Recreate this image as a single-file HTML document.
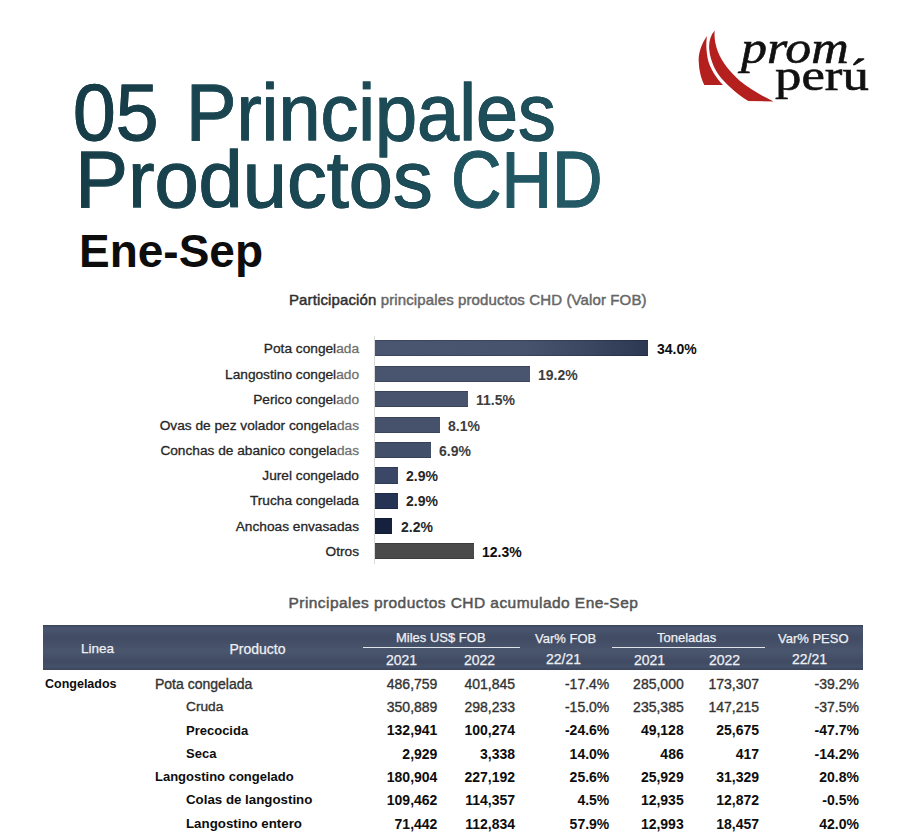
<!DOCTYPE html>
<html>
<head>
<meta charset="utf-8">
<style>
html,body{margin:0;padding:0;background:#fff;}
body{width:909px;height:840px;position:relative;overflow:hidden;font-family:"Liberation Sans",sans-serif;}
.a{position:absolute;white-space:pre;line-height:1;}
.title{font-size:80px;color:#1c4c57;-webkit-text-stroke:1px #1b4852;-webkit-background-clip:text;background-clip:text;-webkit-text-fill-color:transparent;padding:0 4px 20px 0;}
.lbl{font-size:13.7px;color:#262626;-webkit-text-stroke:0.3px #262626;text-align:right;right:550px;}
.val{font-size:14px;font-weight:bold;color:#262626;}
.fade{position:absolute;background:linear-gradient(90deg,rgba(255,255,255,0),rgba(255,255,255,0.33) 4px,rgba(255,255,255,0.33));}
.bar{position:absolute;left:374.5px;height:16.2px;box-shadow:inset 0 1px 0 rgba(0,0,20,0.18),inset 0 -1px 0 rgba(0,0,20,0.18);}
.hd{color:#eef0f4;font-size:13px;-webkit-text-stroke:0.25px #eef0f4;}
.c{text-align:center;}
.num{font-size:14px;text-align:right;}
.b{font-weight:bold;color:#0d0d0d;}
.r{color:#333;-webkit-text-stroke:0.35px #333;}
</style>
</head>
<body>

<!-- Logo -->
<svg class="a" style="left:0;top:0" width="909" height="120" viewBox="0 0 909 120">
  <path fill="#b3201d" d="M707,36 C701,44 698,55 698.8,62 C699,72 702,80 704.3,85 L723,85 C716,78 710,68 708,60 C706,50 706,42 707,36 Z"/>
  <path fill="#b3201d" d="M714.7,30.5 C710,36 708.5,43 709.3,50 C710.5,62 716,72 722,79 C730,88 740,96 748.3,101 L773.6,101.5 C762,96 750,89 740,81 C730,72 722,62 718,52 C715,44 714,37 714.7,30.5 Z"/>
</svg>
<div class="a" id="prom" style="left:741px;top:21px;font:italic 46px 'Liberation Serif',serif;color:#111;-webkit-text-stroke:0.6px #111;transform:scaleX(1.13);transform-origin:0 0;">prom</div>
<div class="a" id="peru" style="left:775px;top:50px;font:44px 'Liberation Serif',serif;color:#111;-webkit-text-stroke:0.6px #111;transform:scaleX(1.2);transform-origin:0 0;">perú</div>

<!-- Title -->
<div class="a title" id="t1a" style="-webkit-text-stroke:1px #173e48;left:73px;top:73px;transform:scaleX(0.96);transform-origin:0 0;background-image:linear-gradient(90deg,#163d47,#183f4a);">05</div>
<div class="a title" id="t1b" style="-webkit-text-stroke:1px #1c4a55;left:186px;top:73px;transform:scaleX(0.945);transform-origin:0 0;background-image:linear-gradient(90deg,#19434e,#1f515d);">Principales</div>
<div class="a title" id="t2a" style="-webkit-text-stroke:1px #1a4550;left:75px;top:139.7px;transform:scaleX(0.993);transform-origin:0 0;background-image:linear-gradient(90deg,#163d47,#1d4e5a);">Productos</div>
<div class="a title" id="t2b" style="-webkit-text-stroke:1px #215763;left:450.5px;top:139.7px;transform:scaleX(0.875);transform-origin:0 0;background-image:linear-gradient(90deg,#1f535f,#235b67);">CHD</div>
<div class="a" style="left:79px;top:228px;font-size:46px;font-weight:bold;color:#0d0d0d;">Ene-Sep</div>

<!-- Chart -->
<div class="a" id="ct" style="left:289px;top:292px;font-size:15px;color:#666;-webkit-text-stroke:0.45px #666;letter-spacing:0.12px;"><span style="color:#2e2e2e;-webkit-text-stroke:0.45px #2e2e2e;">Participación</span> principales productos CHD (Valor FOB)</div>
<div class="a" style="left:373.5px;top:336px;width:1px;height:228px;background:#d9d9d9;"></div>

<div class="bar" style="top:340.3px;width:273.8px;background:linear-gradient(90deg,#4a566f 0%,#47536c 55%,#3a4660 80%,#2c3852 100%);"></div>
<div class="bar" style="top:366px;width:155px;background:#49556e;"></div>
<div class="bar" style="top:391.3px;width:93px;background:#48546d;"></div>
<div class="bar" style="top:417px;width:65px;background:#46526b;"></div>
<div class="bar" style="top:442px;width:56px;background:#435069;"></div>
<div class="bar" style="top:467.4px;width:23.5px;background:#3a4766;"></div>
<div class="bar" style="top:492.6px;width:23px;background:#253455;"></div>
<div class="bar" style="top:518.1px;width:17.3px;background:#16213d;"></div>
<div class="bar" style="top:543.2px;width:99px;background:#4a4a4a;"></div>

<div id="L1" class="a lbl" style="top:342px;">Pota congelada</div>
<div id="L2" class="a lbl" style="top:367.5px;">Langostino congelado</div>
<div id="L3" class="a lbl" style="top:393px;">Perico congelado</div>
<div id="L4" class="a lbl" style="top:418.5px;">Ovas de pez volador congeladas</div>
<div id="L5" class="a lbl" style="top:443.5px;">Conchas de abanico congeladas</div>
<div id="L6" class="a lbl" style="top:469px;">Jurel congelado</div>
<div id="L7" class="a lbl" style="top:494px;">Trucha congelada</div>
<div id="L8" class="a lbl" style="top:519.5px;">Anchoas envasadas</div>
<div id="L9" class="a lbl" style="top:544.5px;">Otros</div>

<div class="fade" style="left:334.5px;top:338px;width:27px;height:124px;"></div>
<div id="V1" class="a val" style="left:657px;top:342px;color:#0d0d0d">34.0%</div>
<div id="V2" class="a val" style="color:#3d3d3d;left:538px;top:367.5px;">19.2%</div>
<div id="V3" class="a val" style="color:#3d3d3d;left:476px;top:393px;">11.5%</div>
<div id="V4" class="a val" style="color:#3d3d3d;left:448px;top:418.5px;">8.1%</div>
<div id="V5" class="a val" style="color:#3d3d3d;left:439px;top:443.5px;">6.9%</div>
<div id="V6" class="a val" style="left:406px;top:469px;">2.9%</div>
<div id="V7" class="a val" style="left:406px;top:494px;">2.9%</div>
<div id="V8" class="a val" style="left:401px;top:519.5px;">2.2%</div>
<div id="V9" class="a val" style="left:482px;top:544.5px;color:#0d0d0d">12.3%</div>

<!-- Table -->
<div class="a" id="tt" style="left:288.5px;top:594.5px;font-size:15.5px;color:#555;-webkit-text-stroke:0.5px #555;letter-spacing:0.44px;">Principales productos CHD acumulado Ene-Sep</div>

<div class="a" style="left:42.5px;top:625px;width:820px;height:45px;background:linear-gradient(#39445a 0px,#4a5670 3px,#47526b 6px,#414c64 13px,#4a556e 26px,#404b63 37px,#45506a 42px,#3a4558 45px);"></div>
<div class="a" style="left:363px;top:647px;width:157px;height:1.2px;background:#dfe3ea;"></div>
<div class="a" style="left:612px;top:647px;width:153px;height:1.2px;background:#dfe3ea;"></div>

<div class="a hd" style="left:81px;top:641.5px;font-size:13.5px;">Linea</div>
<div class="a hd" style="left:229.5px;top:641.5px;font-size:14px;">Producto</div>
<div class="a hd" style="left:396px;top:631px;">Miles US$ FOB</div>
<div class="a hd" style="left:386px;top:653px;font-size:14px;">2021</div>
<div class="a hd" style="left:464px;top:653px;font-size:14px;">2022</div>
<div class="a hd" style="left:535px;top:632px;">Var% FOB</div>
<div class="a hd" style="left:546px;top:652px;font-size:14px;">22/21</div>
<div class="a hd" style="left:657px;top:631px;">Toneladas</div>
<div class="a hd" style="left:634px;top:653px;font-size:14px;">2021</div>
<div class="a hd" style="left:709px;top:653px;font-size:14px;">2022</div>
<div class="a hd" style="left:778px;top:632px;">Var% PESO</div>
<div class="a hd" style="left:792px;top:652px;font-size:14px;">22/21</div>

<!-- rows -->
<div class="a b" style="left:45px;top:678.4px;font-size:12.5px;" id="R0">Congelados</div>
<div class="a r" style="left:155px;top:677.4px;font-size:14px;" id="R1">Pota congelada</div>
<div class="a r" style="left:186px;top:700.4px;font-size:13.7px;" id="R2">Cruda</div>
<div class="a b" style="left:186px;top:724.4px;font-size:13px;" id="R3">Precocida</div>
<div class="a b" style="left:186px;top:747.4px;font-size:13px;" id="R4">Seca</div>
<div class="a b" style="left:155px;top:770.4px;font-size:13px;" id="R5">Langostino congelado</div>
<div class="a b" style="left:186px;top:793.4px;font-size:13.3px;" id="R6">Colas de langostino</div>
<div class="a b" style="left:186px;top:817.4px;font-size:13.3px;" id="R7">Langostino entero</div>

<div id="nums">
<div class="a num r" style="right:471.6px;top:677.4px;">486,759</div>
<div class="a num r" style="right:394.0px;top:677.4px;">401,845</div>
<div class="a num r" style="right:299.7px;top:677.4px;">-17.4%</div>
<div class="a num r" style="right:225.3px;top:677.4px;">285,000</div>
<div class="a num r" style="right:150.0px;top:677.4px;">173,307</div>
<div class="a num r" style="right:50.1px;top:677.4px;">-39.2%</div>
<div class="a num r" style="right:471.6px;top:700.4px;">350,889</div>
<div class="a num r" style="right:394.0px;top:700.4px;">298,233</div>
<div class="a num r" style="right:299.7px;top:700.4px;">-15.0%</div>
<div class="a num r" style="right:225.3px;top:700.4px;">235,385</div>
<div class="a num r" style="right:150.0px;top:700.4px;">147,215</div>
<div class="a num r" style="right:50.1px;top:700.4px;">-37.5%</div>
<div class="a num b" style="right:471.6px;top:723.4px;">132,941</div>
<div class="a num b" style="right:394.0px;top:723.4px;">100,274</div>
<div class="a num b" style="right:299.7px;top:723.4px;">-24.6%</div>
<div class="a num b" style="right:225.3px;top:723.4px;">49,128</div>
<div class="a num b" style="right:150.0px;top:723.4px;">25,675</div>
<div class="a num b" style="right:50.1px;top:723.4px;">-47.7%</div>
<div class="a num b" style="right:471.6px;top:747.4px;">2,929</div>
<div class="a num b" style="right:394.0px;top:747.4px;">3,338</div>
<div class="a num b" style="right:299.7px;top:747.4px;">14.0%</div>
<div class="a num b" style="right:225.3px;top:747.4px;">486</div>
<div class="a num b" style="right:150.0px;top:747.4px;">417</div>
<div class="a num b" style="right:50.1px;top:747.4px;">-14.2%</div>
<div class="a num b" style="right:471.6px;top:770.4px;">180,904</div>
<div class="a num b" style="right:394.0px;top:770.4px;">227,192</div>
<div class="a num b" style="right:299.7px;top:770.4px;">25.6%</div>
<div class="a num b" style="right:225.3px;top:770.4px;">25,929</div>
<div class="a num b" style="right:150.0px;top:770.4px;">31,329</div>
<div class="a num b" style="right:50.1px;top:770.4px;">20.8%</div>
<div class="a num b" style="right:471.6px;top:793.4px;">109,462</div>
<div class="a num b" style="right:394.0px;top:793.4px;">114,357</div>
<div class="a num b" style="right:299.7px;top:793.4px;">4.5%</div>
<div class="a num b" style="right:225.3px;top:793.4px;">12,935</div>
<div class="a num b" style="right:150.0px;top:793.4px;">12,872</div>
<div class="a num b" style="right:50.1px;top:793.4px;">-0.5%</div>
<div class="a num b" style="right:471.6px;top:817.4px;">71,442</div>
<div class="a num b" style="right:394.0px;top:817.4px;">112,834</div>
<div class="a num b" style="right:299.7px;top:817.4px;">57.9%</div>
<div class="a num b" style="right:225.3px;top:817.4px;">12,993</div>
<div class="a num b" style="right:150.0px;top:817.4px;">18,457</div>
<div class="a num b" style="right:50.1px;top:817.4px;">42.0%</div>
</div>
</body>
</html>
